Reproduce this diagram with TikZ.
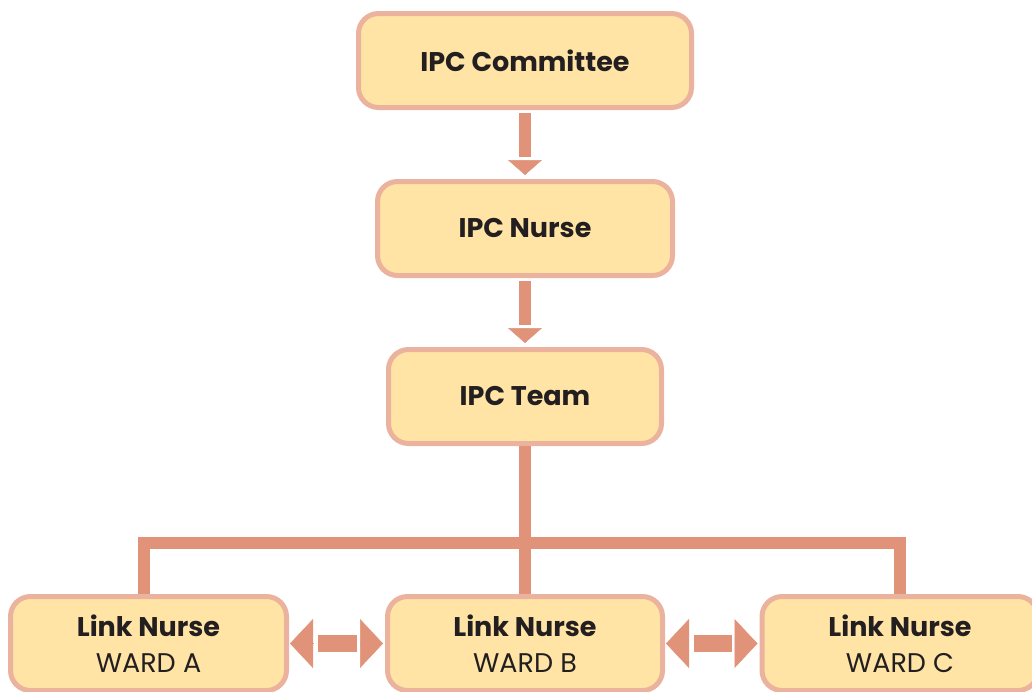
\documentclass[tikz,border=0pt]{standalone}
\usepackage{fontspec}
\setmainfont{Poppins}
\usetikzlibrary{arrows.meta,shapes}
\definecolor{boxfill}{HTML}{FFE4A6}
\definecolor{boxline}{HTML}{EBB29E}
\definecolor{link}{HTML}{E09379}
\definecolor{ink}{HTML}{231F20}

\begin{document}
\begin{tikzpicture}[x=1pt,y=-1pt,
  box/.style={rectangle,rounded corners=20pt,draw=boxline,fill=boxfill,line width=5pt,
    minimum height=94pt,text=ink,font=\fontsize{27}{36}\selectfont,align=center},
  shaft/.style={draw=link,line width=12pt,shorten <=3pt,shorten >=22pt},
  head/.style={draw=link,line width=0.5pt,-{Triangle[width=34pt,length=15pt]},
    shorten <=50pt,shorten >=4pt},
  bar/.style={draw=link,line width=17pt,shorten <=29pt,shorten >=28pt},
  lefthead/.style={draw=link,line width=0.5pt,{Triangle[width=49pt,length=23pt]}-,
    shorten <=1pt,shorten >=72pt},
  righthead/.style={draw=link,line width=0.5pt,-{Triangle[width=49pt,length=23pt]},
    shorten <=71pt,shorten >=2pt},
  tree/.style={draw=link,line width=12pt,line join=miter}]
\useasboundingbox (0,0) rectangle (1032,691);
\node[box,minimum width=333pt] at (525,60.5) (committee) {\textbf{IPC Committee}};
\node[box,minimum width=295pt] at (525,228.5) (nurse) {\textbf{IPC Nurse}};
\node[box,minimum width=273pt] at (525,396.5) (team) {\textbf{IPC Team}};
\node[box,minimum width=276pt] at (148.5,643.5) (wardA) {\textbf{Link Nurse}\\WARD A};
\node[box,minimum width=275pt] at (525,643.5) (wardB) {\textbf{Link Nurse}\\WARD B};
\node[box,minimum width=276pt] at (900,643.5) (wardC) {\textbf{Link Nurse}\\WARD C};
\coordinate (bus) at (525,542.5);
\draw[shaft] (committee) -- (nurse);
\draw[head] (committee) -- (nurse);
\draw[shaft] (nurse) -- (team);
\draw[head] (nurse) -- (team);
\draw[tree] (team.south) -- (wardB.north);
\draw[tree] ([xshift=-4.5pt]wardA.north) |- (bus) -| (wardC.north);
\draw[bar] (wardA) -- (wardB);
\draw[lefthead] (wardA) -- (wardB);
\draw[righthead] (wardA) -- (wardB);
\draw[bar] (wardB) -- (wardC);
\draw[lefthead] (wardB) -- (wardC);
\draw[righthead] (wardB) -- (wardC);
\end{tikzpicture}
\end{document}
